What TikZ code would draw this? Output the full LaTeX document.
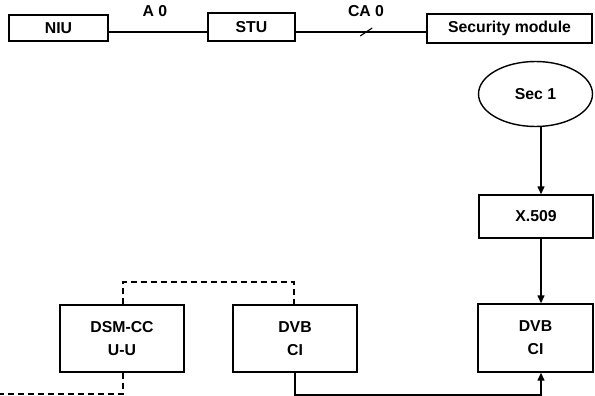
\documentclass[tikz,border=0pt]{standalone}
\usepackage{fontspec}
\setmainfont{Liberation Sans}
\usetikzlibrary{arrows.meta,shapes.geometric}
\begin{document}
\begin{tikzpicture}[x=1pt,y=-1pt,
  line width=1.4pt,
  every node/.style={font=\fontsize{15.8}{23}\selectfont\bfseries},
  blk/.style={draw,rectangle,inner sep=0pt,align=center},
  lbl/.style={inner sep=0pt},
  arr/.style={-{Triangle[length=8pt,width=7pt]}},
  dsh/.style={dash pattern=on 6pt off 4pt}]
\useasboundingbox (0,0) rectangle (595,396);
\node[blk,minimum width=99pt,minimum height=26pt] (niu) at (58.5,28) {NIU};
\node[blk,minimum width=87pt,minimum height=28pt] (stu) at (251.5,27) {STU};
\node[blk,minimum width=165pt,minimum height=29pt] (sec) at (509.5,28.5) {Security module};
\node[draw,ellipse,minimum width=114pt,minimum height=65pt,inner sep=0pt] (sec1) at (535.5,94) {Sec 1};
\node[blk,minimum width=114pt,minimum height=43pt] (x509) at (536,216.5) {X.509};
\node[blk,minimum width=115pt,minimum height=68pt] (dvbr) at (535.5,338) {DVB\\CI};
\node[blk,minimum width=124pt,minimum height=67pt] (dvbm) at (295,338.5) {DVB\\CI};
\node[blk,minimum width=124pt,minimum height=67pt] (dsm) at (122,338.5) {DSM-CC\\U-U};
\node[lbl] (a0) at (155,11) {A 0};
\node[lbl] (ca0) at (366,11) {CA 0};
\coordinate (ly) at (0,32);
\coordinate (ax) at (541,0);
\draw (niu.east |- ly) -- (stu.west |- ly);
\draw (stu.east |- ly) -- coordinate[pos=0.54] (sl) (sec.west |- ly);
\draw[line width=1.1pt] ([xshift=-6pt,yshift=-4pt]sl) -- ([xshift=6pt,yshift=4pt]sl);
\draw[arr] (sec1.south -| ax) -- (x509.north -| ax);
\draw[arr] (x509.south -| ax) -- (dvbr.north -| ax);
\coordinate (d1) at (123,282);
\coordinate (d2) at (294,282);
\draw[dsh] (dsm.north -| d1) -- (d1) -- (d2) -- (dvbm.north -| d2);
\coordinate (d3) at (0,394);
\draw[dsh] (dsm.south -| d1) |- (d3);
\coordinate (s1) at (295,395);
\draw[arr] (dvbm.south -| s1) |- (s1) -| (dvbr.south -| ax);
\end{tikzpicture}
\end{document}
